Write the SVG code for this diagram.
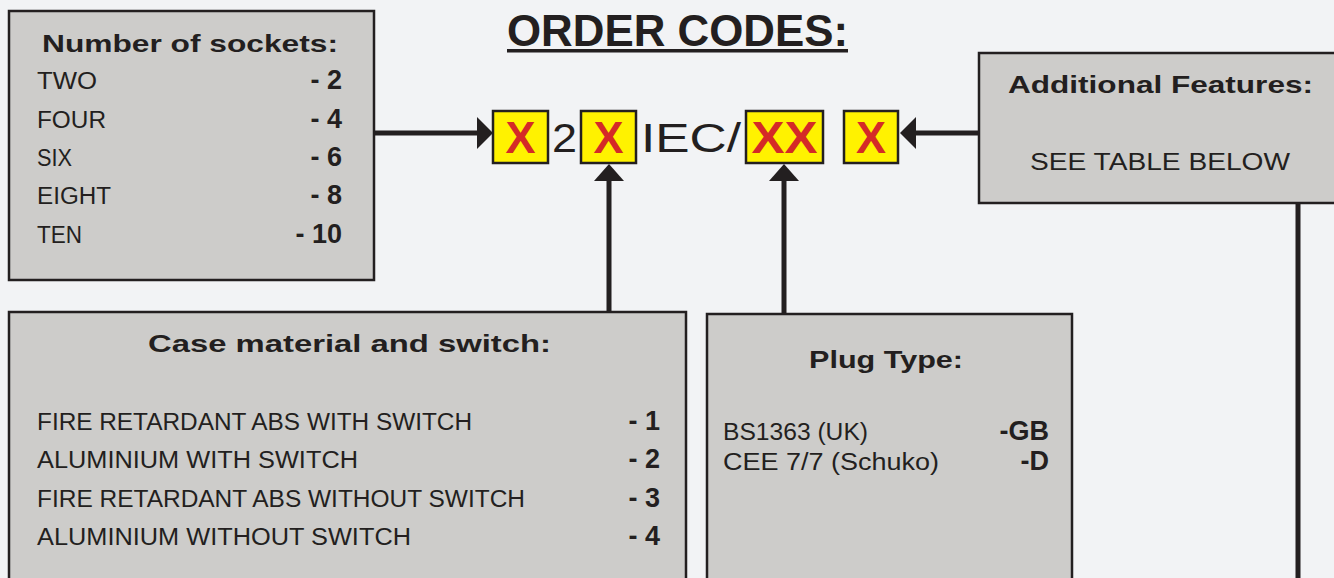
<svg xmlns="http://www.w3.org/2000/svg" width="1334" height="578" viewBox="0 0 1334 578">
<style>
.box{fill:#cdccca;stroke:#231f20;stroke-width:2.5}
.ybox{fill:#fff200;stroke:#231f20;stroke-width:2.5}
.h{font-family:"Liberation Sans",Arial,sans-serif;font-weight:bold;font-size:24px;fill:#231f20}
.t{font-family:"Liberation Sans",Arial,sans-serif;font-size:23px;fill:#231f20}
.v{font-family:"Liberation Sans",Arial,sans-serif;font-weight:bold;font-size:27px;fill:#231f20;text-anchor:end}
.x{font-family:"Liberation Sans",Arial,sans-serif;font-weight:bold;font-size:45px;fill:#d42a27;text-anchor:middle}
.code{font-family:"Liberation Sans",Arial,sans-serif;font-size:40px;fill:#231f20}
.conn{stroke:#231f20;stroke-width:5;fill:none}
</style>
<defs>
<marker id="ah" viewBox="0 0 16 32" refX="0" refY="16" markerWidth="16" markerHeight="32" markerUnits="userSpaceOnUse" orient="auto">
<path d="M0,0 L16,16 L0,32 Z" fill="#231f20"/>
</marker>
<marker id="ahv" viewBox="0 0 17 30" refX="0" refY="15" markerWidth="17" markerHeight="30" markerUnits="userSpaceOnUse" orient="auto">
<path d="M0,0 L17,15 L0,30 Z" fill="#231f20"/>
</marker>
</defs>
<rect width="1334" height="578" fill="#f2f3f5"/>

<g id="title">
<text x="507" y="46" font-family="Liberation Sans,Arial,sans-serif" font-weight="bold" font-size="44" fill="#231f20" textLength="341" lengthAdjust="spacingAndGlyphs">ORDER CODES:</text>
<rect x="507" y="49" width="341" height="3.5" fill="#231f20"/>
</g>

<g id="connectors">
<line class="conn" x1="375" y1="133" x2="477" y2="133" marker-end="url(#ah)"/>
<line class="conn" x1="979" y1="133" x2="916" y2="133" marker-end="url(#ah)"/>
<line class="conn" x1="609" y1="312" x2="609" y2="181" marker-end="url(#ahv)"/>
<line class="conn" x1="784" y1="314" x2="784" y2="181" marker-end="url(#ahv)"/>
<line class="conn" x1="1298" y1="204" x2="1298" y2="578"/>
</g>

<g id="code">
<rect class="ybox" x="493" y="111" width="55" height="52"/>
<text class="x" x="520.5" y="153">X</text>
<text class="code" x="552" y="152" textLength="25" lengthAdjust="spacingAndGlyphs">2</text>
<rect class="ybox" x="581" y="111" width="55" height="52"/>
<text class="x" x="608.5" y="153">X</text>
<text class="code" x="641" y="152" textLength="100" lengthAdjust="spacingAndGlyphs">IEC/</text>
<rect class="ybox" x="746" y="111" width="77" height="52"/>
<text class="x" x="784.5" y="153" textLength="66" lengthAdjust="spacingAndGlyphs">XX</text>
<rect class="ybox" x="844" y="111" width="54" height="52"/>
<text class="x" x="871" y="153">X</text>
</g>

<g id="sockets">
<rect class="box" x="9" y="11" width="365" height="269"/>
<text class="h" x="42" y="52" textLength="296" lengthAdjust="spacingAndGlyphs">Number of sockets:</text>
<text class="t" x="37" y="89" textLength="60" lengthAdjust="spacingAndGlyphs">TWO</text>
<text class="t" x="37" y="128" textLength="69" lengthAdjust="spacingAndGlyphs">FOUR</text>
<text class="t" x="37" y="166" textLength="35" lengthAdjust="spacingAndGlyphs">SIX</text>
<text class="t" x="37" y="204" textLength="74" lengthAdjust="spacingAndGlyphs">EIGHT</text>
<text class="t" x="37" y="243" textLength="45" lengthAdjust="spacingAndGlyphs">TEN</text>
<text class="v" x="342" y="89">- 2</text>
<text class="v" x="342" y="128">- 4</text>
<text class="v" x="342" y="166">- 6</text>
<text class="v" x="342" y="204">- 8</text>
<text class="v" x="342" y="243">- 10</text>
</g>

<g id="features">
<rect class="box" x="979" y="53" width="360" height="150"/>
<text class="h" x="1008" y="93" textLength="305" lengthAdjust="spacingAndGlyphs">Additional Features:</text>
<text class="t" x="1030" y="170" font-size="25" textLength="260" lengthAdjust="spacingAndGlyphs">SEE TABLE BELOW</text>
</g>

<g id="case">
<rect class="box" x="9" y="312" width="677" height="275"/>
<text class="h" x="148" y="352" textLength="403" lengthAdjust="spacingAndGlyphs">Case material and switch:</text>
<text class="t" x="37" y="430" textLength="435" lengthAdjust="spacingAndGlyphs">FIRE RETARDANT ABS WITH SWITCH</text>
<text class="t" x="37" y="468" textLength="321" lengthAdjust="spacingAndGlyphs">ALUMINIUM WITH SWITCH</text>
<text class="t" x="37" y="507" textLength="488" lengthAdjust="spacingAndGlyphs">FIRE RETARDANT ABS WITHOUT SWITCH</text>
<text class="t" x="37" y="545" textLength="374" lengthAdjust="spacingAndGlyphs">ALUMINIUM WITHOUT SWITCH</text>
<text class="v" x="660" y="430">- 1</text>
<text class="v" x="660" y="468">- 2</text>
<text class="v" x="660" y="507">- 3</text>
<text class="v" x="660" y="545">- 4</text>
</g>

<g id="plug">
<rect class="box" x="707" y="314" width="365" height="273"/>
<text class="h" x="809" y="368" textLength="154" lengthAdjust="spacingAndGlyphs">Plug Type:</text>
<text class="t" x="723" y="440" font-size="22" textLength="145" lengthAdjust="spacingAndGlyphs">BS1363 (UK)</text>
<text class="t" x="723" y="470" font-size="22" textLength="216" lengthAdjust="spacingAndGlyphs">CEE 7/7 (Schuko)</text>
<text class="v" x="1049" y="440" font-size="23">-GB</text>
<text class="v" x="1049" y="470" font-size="23">-D</text>
</g>
</svg>
